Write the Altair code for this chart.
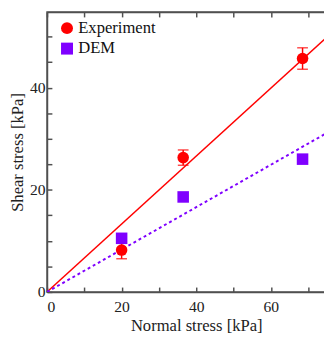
import altair as alt
import pandas as pd

series_names = ["Experiment", "DEM"]
series_colors = ["#ff0000", "#7f00ff"]
series_shapes = ["circle", "square"]

exp_x = [20.0, 36.5, 68.5]
exp_y = [8.2, 26.3, 45.7]
exp_err = [1.7, 1.5, 2.1]

dem_x = [20.0, 36.5, 68.5]
dem_y = [10.5, 18.6, 26.0]

fit_x = [0, 80]
exp_fit_y = [0, 53.2]
dem_fit_y = [0, 33.2]

x_ticks = list(range(0, 81, 10))
y_ticks = list(range(0, 55, 5))

pts = pd.DataFrame({
    "series": ["Experiment"] * 3 + ["DEM"] * 3,
    "x": exp_x + dem_x,
    "y": exp_y + dem_y,
})
err = pd.DataFrame({
    "x": exp_x,
    "lo": [y - e for y, e in zip(exp_y, exp_err)],
    "hi": [y + e for y, e in zip(exp_y, exp_err)],
})
fit_exp = pd.DataFrame({"x": fit_x, "y": exp_fit_y})
fit_dem = pd.DataFrame({"x": fit_x, "y": dem_fit_y})

FONT = "Liberation Serif"
AX = "#505050"
xs = alt.Scale(domain=[0, 80], nice=False, zero=False)
ys = alt.Scale(domain=[0, 54.8], nice=False, zero=False)

common = dict(domainColor=AX, domainWidth=1.5, tickColor=AX, tickWidth=1.5,
              tickSize={"expr": "-5"}, grid=False, labelFont=FONT, titleFont=FONT,
              labelColor="#222", titleColor="#222", labelFontSize=16, titleFontSize=17,
              titleFontWeight="normal")

x_bottom = alt.Axis(values=x_ticks, title="Normal stress [kPa]", orient="bottom",
                    labelExpr="datum.value % 20 === 0 && datum.value < 70 ? datum.label : ''",
                    labelPadding=12, titlePadding=4, **common)
y_left = alt.Axis(values=y_ticks, title="Shear stress [kPa]", orient="left",
                  labelExpr="datum.value % 20 === 0 ? datum.label : ''",
                  labelPadding=7, titlePadding=3, **common)
x_top = alt.Axis(values=x_ticks, title=None, orient="top", labels=False, **common)
y_right = alt.Axis(values=y_ticks, title=None, orient="right", labels=False, **common)

line_exp = alt.Chart(fit_exp).mark_line(color="#ff0000", strokeWidth=1.5, clip=True).encode(
    x=alt.X("x:Q", scale=xs, axis=x_bottom),
    y=alt.Y("y:Q", scale=ys, axis=y_left),
)
line_dem = alt.Chart(fit_dem).mark_line(color="#7f00ff", strokeWidth=2, strokeDash=[3, 3], clip=True).encode(
    x=alt.X("x:Q", scale=xs, axis=x_top),
    y=alt.Y("y:Q", scale=ys, axis=y_right),
)
rules = alt.Chart(err).mark_rule(color="#ff0000", strokeWidth=1.5).encode(
    x=alt.X("x:Q", scale=xs, axis=None),
    y=alt.Y("lo:Q", scale=ys, axis=None),
    y2="hi:Q",
)
cap_lo = alt.Chart(err).mark_tick(color="#ff0000", orient="horizontal", size=11, thickness=1.5).encode(
    x=alt.X("x:Q", scale=xs, axis=None),
    y=alt.Y("lo:Q", scale=ys, axis=None),
)
cap_hi = alt.Chart(err).mark_tick(color="#ff0000", orient="horizontal", size=11, thickness=1.5).encode(
    x=alt.X("x:Q", scale=xs, axis=None),
    y=alt.Y("hi:Q", scale=ys, axis=None),
)
points = alt.Chart(pts).mark_point(filled=True, opacity=1).encode(
    x=alt.X("x:Q", scale=xs, axis=None),
    y=alt.Y("y:Q", scale=ys, axis=None),
    color=alt.Color("series:N", scale=alt.Scale(domain=series_names, range=series_colors), title=None),
    shape=alt.Shape("series:N", scale=alt.Scale(domain=series_names, range=series_shapes), title=None),
    size=alt.value(140),
)

chart = alt.layer(line_exp, line_dem, rules, cap_lo, cap_hi, points).resolve_axis(
    x="independent", y="independent"
).properties(
    width=306, height=287,
    autosize=alt.AutoSizeParams(type="none"),
    padding={"left": 40, "top": 0, "right": -22, "bottom": 40},
).configure_view(stroke=AX, strokeWidth=1.5).configure_legend(
    orient="none", legendX=12, legendY=8, padding=0,
    labelFont=FONT, labelFontSize=17, labelColor="#111", symbolSize=150,
    symbolStrokeWidth=0, rowPadding=3, labelOffset=3,
)

chart.save("out.html", embed_options={"renderer": "svg", "actions": False})
